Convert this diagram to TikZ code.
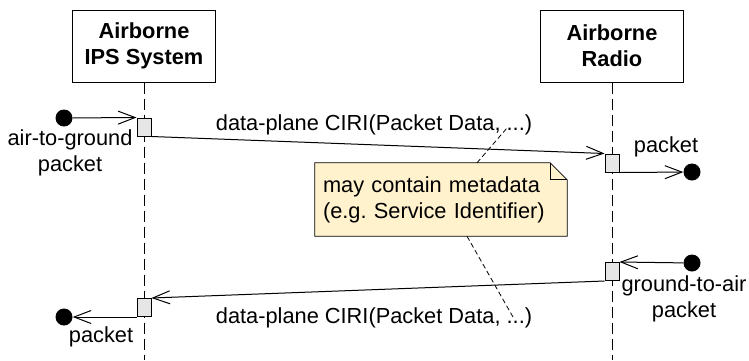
\documentclass[tikz,border=0pt]{standalone}
\usepackage{fontspec}
\setmainfont{Liberation Sans}
\usetikzlibrary{arrows.meta,backgrounds}
\definecolor{notefill}{HTML}{FFF2CC}
\definecolor{actfill}{HTML}{E6E6E6}
\newcommand{\bigfont}{\fontsize{21.8}{26}\selectfont}
\frenchspacing
\tikzset{
	lifehead/.style={draw, line width=1pt, minimum width=143pt, minimum height=72pt, inner sep=0pt, align=center, font=\bigfont\bfseries},
	lifeline/.style={line width=1pt, dash pattern=on 11pt off 5pt},
	actbox/.style={draw, fill=actfill, line width=1pt, minimum width=14pt, minimum height=18pt, inner sep=0pt},
	endpt/.style={circle, fill=black, minimum size=17pt, inner sep=0pt},
	msg/.style={line width=1pt, -{Straight Barb[length=17pt,width=13pt]}},
	lbl/.style={align=center, inner sep=0pt, font=\bigfont},
	notebox/.style={minimum width=252pt, minimum height=73pt, text width=236pt, inner sep=8pt, align=left, font=\bigfont},
	notelink/.style={line width=0.8pt, dash pattern=on 5pt off 3pt}
}

\begin{document}
\begin{tikzpicture}[x=1pt, y=-1pt]
			%%%%% START %%%%%
			\useasboundingbox (0, 0) rectangle (749, 360);
			
			\node[lifehead] (ips) at (144, 46) {Airborne\\IPS System};
			\node[lifehead] (radio) at (612, 46) {Airborne\\Radio};
			\coordinate (ipsend) at (144, 360);
			\coordinate (radioend) at (612, 360);
			\draw[lifeline] (ips) -- (ipsend);
			\draw[lifeline] (radio) -- (radioend);
			
			\node[actbox] (actA) at (144, 127) {};
			\node[actbox] (actB) at (612, 163) {};
			\node[actbox] (actC) at (612, 271.5) {};
			\node[actbox] (actD) at (144, 307.5) {};
			
			\node[endpt] (inA) at (64, 118) {};
			\node[endpt] (outB) at (692, 172) {};
			\node[endpt] (inC) at (692, 263) {};
			\node[endpt] (outD) at (64, 317) {};
			
			\draw[msg] (inA) -- (actA.north west);
			\draw[msg] (actA.south east) -- (actB.north west);
			\draw[msg] (actB.south east) -- (outB);
			\draw[msg] (inC) -- (actC.north east);
			\draw[msg] (actC.south west) -- (actD.north east);
			\draw[msg] (actD.south west) -- (outD);
			
			\node[lbl] (lblA) at (70, 153) {air-to-ground\\packet};
			\node[lbl, anchor=base] (lblAB) at (374, 130) {data-plane CIRI(Packet Data, ...)};
			\node[lbl, anchor=base] (lblB) at (666, 152) {packet};
			\node[lbl] (lblC) at (684, 299) {ground-to-air\\packet};
			\node[lbl, anchor=base] (lblCD) at (374, 323) {data-plane CIRI(Packet Data, ...)};
			\node[lbl, anchor=base] (lblD) at (101, 342) {packet};
			
			% note
			\node[notebox] (note) at (441, 199.5) {may contain metadata\\(e.g. Service Identifier)};
			\begin{scope}[on background layer]
				\draw[fill=notefill, line width=0.8pt] (note.north west) -- ([xshift=-17pt]note.north east) -- ([yshift=-17pt]note.north east) -- (note.south east) -- (note.south west) -- cycle;
				\draw[line width=0.8pt] ([xshift=-17pt]note.north east) |- ([yshift=-17pt]note.north east);
			\end{scope}
			\coordinate (tipA) at (507, 128);
			\coordinate (tipB) at (513, 317);
			\draw[notelink] ([xshift=36pt]note.north) -- (tipA);
			\draw[notelink] ([xshift=26pt]note.south) -- (tipB);
			%%%%% END %%%%%
\end{tikzpicture}
\end{document}
